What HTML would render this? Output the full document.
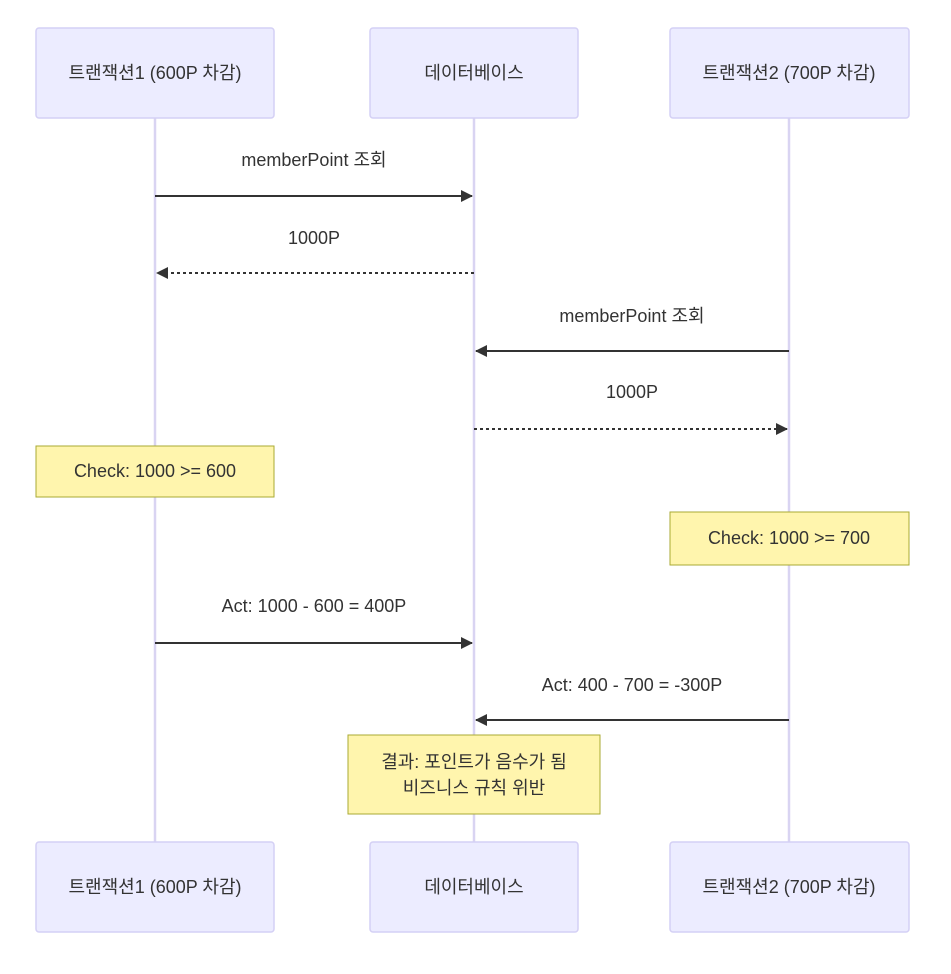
<!DOCTYPE html>
<html><head><meta charset="utf-8"><style>
html,body{margin:0;padding:0;background:#fff;}
svg text{font-family:"Liberation Sans","Noto Sans CJK KR",sans-serif;font-size:18px;fill:#333;}
</style></head><body>
<svg width="951" height="969" viewBox="0 0 951 969" xmlns="http://www.w3.org/2000/svg">
<defs>
<marker id="ah" viewBox="0 0 12 12" refX="11" refY="6" markerWidth="12" markerHeight="12" orient="auto" markerUnits="userSpaceOnUse">
<path d="M0,0 L12,6 L0,12 z" fill="#333"/></marker>
</defs>
<g stroke="#d9d4f2" stroke-width="2.5">
<line x1="155" y1="118" x2="155" y2="842"/>
<line x1="474" y1="118" x2="474" y2="842"/>
<line x1="789" y1="118" x2="789" y2="842"/>
</g>
<g fill="#ececff" stroke="#d4d0f5" stroke-width="1.5">
<rect x="36" y="28" width="238" height="90" rx="3"/>
<rect x="370" y="28" width="208" height="90" rx="3"/>
<rect x="670" y="28" width="239" height="90" rx="3"/>
<rect x="36" y="842" width="238" height="90" rx="3"/>
<rect x="370" y="842" width="208" height="90" rx="3"/>
<rect x="670" y="842" width="239" height="90" rx="3"/>
</g>
<g text-anchor="middle" dominant-baseline="central">
<text x="155" y="73">트랜잭션1 (600P 차감)</text>
<text x="474" y="73">데이터베이스</text>
<text x="789" y="73">트랜잭션2 (700P 차감)</text>
<text x="155" y="887">트랜잭션1 (600P 차감)</text>
<text x="474" y="887">데이터베이스</text>
<text x="789" y="887">트랜잭션2 (700P 차감)</text>
<text x="314" y="160">memberPoint 조회</text>
<text x="314" y="238">1000P</text>
<text x="632" y="316">memberPoint 조회</text>
<text x="632" y="392">1000P</text>
<text x="314" y="606">Act: 1000 - 600 = 400P</text>
<text x="632" y="685">Act: 400 - 700 = -300P</text>
</g>
<g stroke="#333" stroke-width="2" fill="none">
<line x1="155" y1="196" x2="472" y2="196" marker-end="url(#ah)"/>
<line x1="474" y1="273" x2="157" y2="273" stroke-dasharray="3,3" marker-end="url(#ah)"/>
<line x1="789" y1="351" x2="476" y2="351" marker-end="url(#ah)"/>
<line x1="474" y1="429" x2="787" y2="429" stroke-dasharray="3,3" marker-end="url(#ah)"/>
<line x1="155" y1="643" x2="472" y2="643" marker-end="url(#ah)"/>
<line x1="789" y1="720" x2="476" y2="720" marker-end="url(#ah)"/>
</g>
<g fill="#fff5ad" stroke="#aaaa33" stroke-width="1">
<rect x="36" y="446" width="238" height="51"/>
<rect x="670" y="512" width="239" height="53"/>
<rect x="348" y="735" width="252" height="79"/>
</g>
<g text-anchor="middle" dominant-baseline="central">
<text x="155" y="471">Check: 1000 &gt;= 600</text>
<text x="789" y="538">Check: 1000 &gt;= 700</text>
<text x="474" y="762">결과: 포인트가 음수가 됨</text>
<text x="474" y="788">비즈니스 규칙 위반</text>
</g>
</svg>
</body></html>
